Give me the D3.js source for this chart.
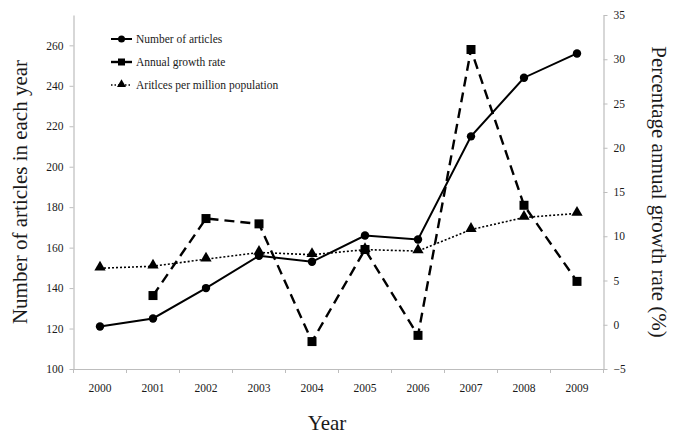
<!DOCTYPE html>
<html><head><meta charset="utf-8">
<script src="https://cdn.jsdelivr.net/npm/d3@7"></script>
<style>body{margin:0;background:#fff}svg{display:block}text{font-family:"Liberation Serif","Times New Roman",serif;fill:#1a1a1a}</style>
</head><body><svg id="c" width="685" height="434"></svg>
<script>
const years = ["2000","2001","2002","2003","2004","2005","2006","2007","2008","2009"];
const articles = [121, 125, 140, 156, 153, 166, 164, 215, 244, 256];
const growthRate = [null, 3.3, 12.0, 11.4, -1.9, 8.5, -1.2, 31.1, 13.5, 4.9];
const perMillion = [149.8, 150.8, 154.3, 157.6, 156.5, 159.0, 158.3, 168.9, 174.9, 176.9];
const leftTicks = [100, 120, 140, 160, 180, 200, 220, 240, 260];
const rightTicks = [-5, 0, 5, 10, 15, 20, 25, 30, 35];
const seriesNames = ["Number of articles", "Annual growth rate", "Aritlces per million population"];

const svg = d3.select("#c");
const L = 73.5, R = 603.5, T = 15, B = 369;
const x = d3.scaleBand().domain(years).range([L, R]);
const yL = d3.scaleLinear().domain([100, 275]).range([B, T]);
const yR = d3.scaleLinear().domain([-5, 35]).range([B, T]);
const axisCol = "#bdbdbd";

function styleAxis(g){
  g.select(".domain").attr("stroke", axisCol).attr("stroke-width", 1.2);
  g.selectAll(".tick line").attr("stroke", axisCol).attr("stroke-width", 1);
  g.selectAll(".tick text").style("font-family", '"Liberation Serif", serif').style("font-size", "11.5px").attr("fill", "#1a1a1a");
}
// x axis with ticks at band boundaries
const gx = svg.append("g").attr("transform", `translate(0,${B})`)
  .call(d3.axisBottom(x).tickSize(0).tickPadding(15));
styleAxis(gx);
const bounds = years.map(d => x(d)).concat([R]);
svg.append("g").selectAll("line").data(bounds).join("line")
  .attr("x1", d => d).attr("x2", d => d).attr("y1", B).attr("y2", B + 4)
  .attr("stroke", axisCol);

const gl = svg.append("g").attr("transform", `translate(${L},0)`)
  .call(d3.axisLeft(yL).tickValues(leftTicks).tickSize(4).tickPadding(6).tickSizeOuter(0));
styleAxis(gl);
const gr = svg.append("g").attr("transform", `translate(${R},0)`)
  .call(d3.axisRight(yR).tickValues(rightTicks).tickSize(4).tickPadding(6).tickSizeOuter(0));
styleAxis(gr);

const cx = d => x(d) + x.bandwidth() / 2;

// per million (dotted, triangles)
const pmData = years.map((y, i) => ({y, v: perMillion[i]}));
svg.append("path").datum(pmData)
  .attr("d", d3.line().x(d => cx(d.y)).y(d => yL(d.v)))
  .attr("fill", "none").attr("stroke", "#000").attr("stroke-width", 1.6).attr("stroke-dasharray", "2,2");
const tri = d3.symbol().type(d3.symbolTriangle).size(55);
svg.append("g").selectAll("path").data(pmData).join("path")
  .attr("d", tri).attr("transform", d => `translate(${cx(d.y)},${yL(d.v) - 1})`).attr("fill", "#000");

// growth rate (dashed, squares)
const grData = years.map((y, i) => ({y, v: growthRate[i]})).filter(d => d.v !== null);
svg.append("path").datum(grData)
  .attr("d", d3.line().x(d => cx(d.y)).y(d => yR(d.v)))
  .attr("fill", "none").attr("stroke", "#000").attr("stroke-width", 2.4).attr("stroke-dasharray", "10,6");
svg.append("g").selectAll("rect").data(grData).join("rect")
  .attr("x", d => cx(d.y) - 4.5).attr("y", d => yR(d.v) - 4.5).attr("width", 9).attr("height", 9).attr("fill", "#000");

// articles (solid, circles)
const arData = years.map((y, i) => ({y, v: articles[i]}));
svg.append("path").datum(arData)
  .attr("d", d3.line().x(d => cx(d.y)).y(d => yL(d.v)))
  .attr("fill", "none").attr("stroke", "#000").attr("stroke-width", 2);
svg.append("g").selectAll("circle").data(arData).join("circle")
  .attr("cx", d => cx(d.y)).attr("cy", d => yL(d.v)).attr("r", 4.2).attr("fill", "#000");

// legend
const lg = svg.append("g");
const rows = [39, 62, 85];
const lx1 = 111, lx2 = 132, lm = 121.5;
lg.append("line").attr("x1", lx1).attr("x2", lx2).attr("y1", rows[0]).attr("y2", rows[0]).attr("stroke", "#000").attr("stroke-width", 2);
lg.append("circle").attr("cx", lm).attr("cy", rows[0]).attr("r", 3.5).attr("fill", "#000");
lg.append("line").attr("x1", lx1).attr("x2", lx2).attr("y1", rows[1]).attr("y2", rows[1]).attr("stroke", "#000").attr("stroke-width", 2.4);
lg.append("rect").attr("x", lm - 3.5).attr("y", rows[1] - 3.5).attr("width", 7).attr("height", 7).attr("fill", "#000");
lg.append("line").attr("x1", lx1).attr("x2", lx2).attr("y1", rows[2]).attr("y2", rows[2]).attr("stroke", "#000").attr("stroke-width", 1.5).attr("stroke-dasharray", "1.5,2");
lg.append("path").attr("d", d3.symbol().type(d3.symbolTriangle).size(35)).attr("transform", `translate(${lm},${rows[2] - 0.5})`).attr("fill", "#000");
lg.selectAll("text").data(seriesNames).join("text")
  .attr("x", 136).attr("y", (d, i) => rows[i] + 4).style("font-size", "11.5px").text(d => d);

// axis titles
svg.append("text").attr("transform", "translate(27,192) rotate(-90)").attr("text-anchor", "middle")
  .style("font-size", "21px").text("Number of articles in each year");
svg.append("text").attr("transform", "translate(652,192) rotate(90)").attr("text-anchor", "middle")
  .style("font-size", "21px").text("Percentage annual growth rate (%)");
svg.append("text").attr("x", 327).attr("y", 430).attr("text-anchor", "middle")
  .style("font-size", "21px").text("Year");
</script></body></html>
